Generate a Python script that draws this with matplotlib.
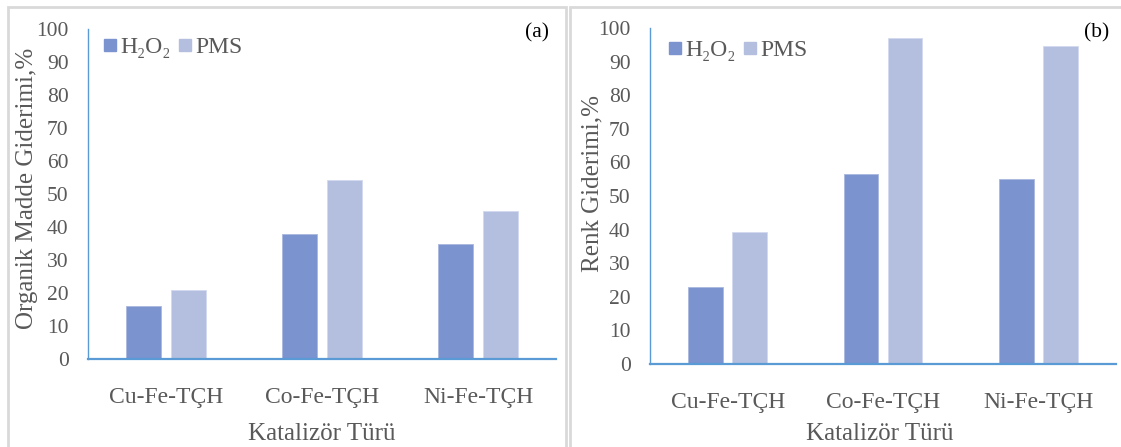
import matplotlib.pyplot as plt
from matplotlib.patches import Rectangle
from matplotlib.lines import Line2D
import numpy as np

plt.rcParams['font.family'] = ['Liberation Serif', 'DejaVu Serif']

categories = ['Cu-Fe-TÇH', 'Co-Fe-TÇH', 'Ni-Fe-TÇH']
series_names = ['H₂O₂', 'PMS']
organik_h2o2 = [16.0, 38.0, 35.0]
organik_pms = [21.0, 54.2, 45.0]
renk_h2o2 = [23.0, 56.5, 55.2]
renk_pms = [39.3, 97.0, 94.6]
yticks = list(range(0, 101, 10))

c_h2o2 = '#7B93CF'
c_pms = '#B4BEDF'
axis_col = '#5B9BD5'
txt = '#595959'

W, H = 1121, 447
fig = plt.figure(figsize=(W / 100, H / 100), dpi=100)


def px(x0, y0, x1, y1):
    # pixel box (top-left origin) -> figure fraction rect
    return [x0 / W, 1 - y1 / H, (x1 - x0) / W, (y1 - y0) / H]


# panel frames
for x0, x1 in [(8, 566), (570, 1125)]:
    fig.add_artist(Rectangle((x0 / W, -0.05), (x1 - x0) / W, 1.05 - 7 / H,
                             transform=fig.transFigure, fill=False,
                             edgecolor='#D9D9D9', linewidth=2))


def panel(box, h2o2, pms, tag, ylab, ylab_xy, leg_xy, tag_xy, xlab_xy):
    ax = fig.add_axes(px(*box))
    x = np.arange(len(categories))
    w = 0.224
    off = 0.142
    ax.bar(x - off, h2o2, w, color=c_h2o2, edgecolor='#A9B8E0', linewidth=0.6)
    ax.bar(x + off, pms, w, color=c_pms, edgecolor='#D3D9EE', linewidth=0.6)
    ax.set_xlim(-0.5, 2.5)
    ax.set_ylim(0, 100)
    ax.set_yticks(yticks)
    ax.set_xticks(x)
    ax.set_xticklabels(categories)
    ax.tick_params(length=0, labelsize=15.5, colors=txt)
    ax.tick_params(axis='y', pad=14)
    ax.tick_params(axis='x', pad=20, labelsize=17)
    for s in ['top', 'right']:
        ax.spines[s].set_visible(False)
    for s in ['left', 'bottom']:
        ax.spines[s].set_color(axis_col)
        ax.spines[s].set_linewidth(1.6)
    ax.spines['left'].set_linewidth(1.0)
    handles = [Line2D([], [], marker='s', linestyle='none', markersize=9,
                      color=c) for c in (c_h2o2, c_pms)]
    ax.legend(handles, series_names, loc='upper left',
              bbox_to_anchor=(leg_xy[0] / W, 1 - leg_xy[1] / H),
              bbox_transform=fig.transFigure, frameon=False, ncol=2,
              fontsize=17, handlelength=0.6, handletextpad=0.15,
              columnspacing=0.3, labelcolor=txt, borderpad=0)
    fig.text(tag_xy[0] / W, 1 - tag_xy[1] / H, tag, fontsize=15.5,
             color='black', ha='center', va='center')
    fig.text(ylab_xy[0] / W, 1 - ylab_xy[1] / H, ylab, fontsize=18,
             color=txt, rotation=90, ha='center', va='center')
    fig.text(xlab_xy[0] / W, 1 - xlab_xy[1] / H, 'Katalizör Türü', fontsize=18,
             color=txt, ha='center', va='center')
    return ax


panel((88, 29, 556, 359), organik_h2o2, organik_pms, '(a)',
      'Organik Madde Giderimi,%', (27, 188), (91, 25), (537, 33), (322, 434))
panel((650, 28, 1116, 364), renk_h2o2, renk_pms, '(b)',
      'Renk Giderimi,%', (592, 183), (656, 28), (1097, 33), (880, 434))

fig.savefig('out.png', dpi=100)
